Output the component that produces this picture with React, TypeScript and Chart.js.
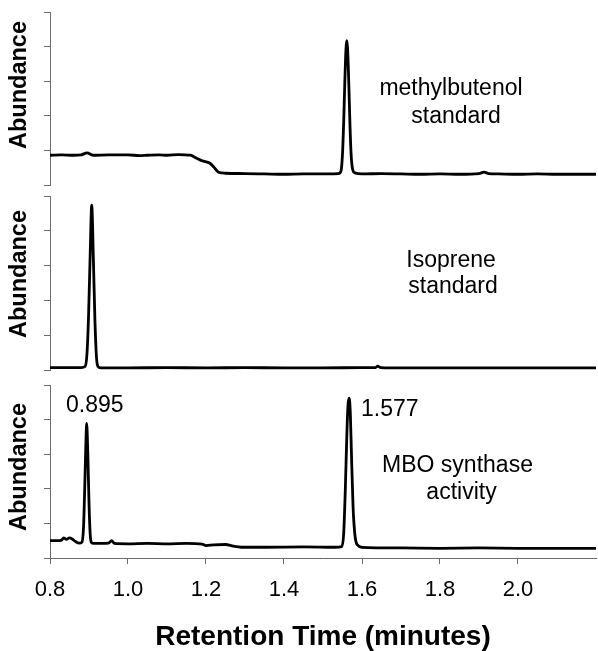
import React, { useEffect, useRef } from 'react';
import { Chart, registerables } from 'chart.js';
Chart.register(...registerables);

// ---- Data (retention time in minutes, abundance in arbitrary units) ----
const mbStdTimes = [0.80, 0.83, 0.86, 0.88, 0.895, 0.91, 0.95, 1.00, 1.03, 1.05, 1.08, 1.10, 1.13, 1.16, 1.175, 1.19, 1.21, 1.22, 1.232, 1.25, 1.30, 1.35, 1.40, 1.45, 1.50, 1.54, 1.546, 1.550, 1.553, 1.556, 1.559, 1.561, 1.563, 1.566, 1.569, 1.572, 1.576, 1.582, 1.60, 1.65, 1.70, 1.75, 1.80, 1.85, 1.90, 1.913, 1.925, 1.95, 2.00, 2.05, 2.10, 2.15, 2.20];
const mbStdAbund = [0.86, 0.87, 0.86, 0.87, 0.93, 0.86, 0.87, 0.87, 0.85, 0.86, 0.87, 0.86, 0.88, 0.86, 0.78, 0.70, 0.63, 0.52, 0.37, 0.34, 0.33, 0.32, 0.31, 0.32, 0.32, 0.33, 0.40, 0.90, 1.80, 3.00, 3.95, 4.17, 3.95, 3.00, 1.80, 0.90, 0.45, 0.35, 0.32, 0.33, 0.32, 0.31, 0.32, 0.31, 0.33, 0.37, 0.33, 0.32, 0.31, 0.32, 0.31, 0.31, 0.31];

const isoStdTimes = [0.80, 0.85, 0.88, 0.890, 0.895, 0.899, 0.903, 0.907, 0.911, 0.915, 0.919, 0.923, 0.93, 1.00, 1.10, 1.20, 1.30, 1.40, 1.50, 1.60, 1.635, 1.64, 1.648, 1.70, 1.80, 1.90, 2.00, 2.10, 2.20];
const isoStdAbund = [0.07, 0.07, 0.07, 0.10, 0.50, 1.60, 3.30, 4.74, 3.30, 1.50, 0.40, 0.10, 0.06, 0.06, 0.07, 0.06, 0.07, 0.06, 0.06, 0.07, 0.07, 0.11, 0.07, 0.06, 0.06, 0.06, 0.06, 0.06, 0.06];

const mboTimes = [0.80, 0.82, 0.83, 0.835, 0.842, 0.85, 0.857, 0.865, 0.875, 0.882, 0.886, 0.889, 0.892, 0.894, 0.897, 0.900, 0.903, 0.906, 0.91, 0.95, 0.958, 0.965, 1.00, 1.05, 1.10, 1.15, 1.19, 1.20, 1.22, 1.25, 1.27, 1.29, 1.35, 1.45, 1.53, 1.548, 1.553, 1.557, 1.561, 1.564, 1.567, 1.570, 1.573, 1.577, 1.582, 1.588, 1.60, 1.70, 1.80, 1.90, 2.00, 2.10, 2.20];
const mboAbund = [0.50, 0.50, 0.52, 0.58, 0.54, 0.58, 0.55, 0.48, 0.43, 0.46, 0.90, 2.00, 3.30, 3.89, 3.00, 1.60, 0.70, 0.45, 0.42, 0.43, 0.50, 0.42, 0.41, 0.42, 0.41, 0.42, 0.40, 0.36, 0.38, 0.39, 0.34, 0.31, 0.31, 0.32, 0.31, 0.33, 0.70, 1.90, 3.50, 4.40, 4.62, 4.20, 3.00, 1.50, 0.65, 0.38, 0.31, 0.29, 0.28, 0.29, 0.28, 0.28, 0.28];

const xTickValues = [0.8, 1.0, 1.2, 1.4, 1.6, 1.8, 2.0];
const xMin = 0.8;
const xMax = 2.2;
const yMax = 5;

type Label = { text: string; x: number; y: number; align: CanvasTextAlign };

type Panel = {
  top: number;
  height: number;
  padTop: number;
  padBottom: number;
  times: number[];
  values: number[];
  showX: boolean;
  titleY: number;
  labels: Label[];
};

const panels: Panel[] = [
  {
    top: 0, height: 190, padTop: 12, padBottom: 5,
    times: mbStdTimes, values: mbStdAbund, showX: false, titleY: 85,
    labels: [
      { text: 'methylbutenol', x: 451, y: 95, align: 'center' },
      { text: 'standard', x: 456, y: 122.7, align: 'center' },
    ],
  },
  {
    top: 190, height: 182, padTop: 6, padBottom: 2,
    times: isoStdTimes, values: isoStdAbund, showX: false, titleY: 84,
    labels: [
      { text: 'Isoprene', x: 451, y: 77, align: 'center' },
      { text: 'standard', x: 453, y: 103, align: 'center' },
    ],
  },
  {
    top: 375, height: 276, padTop: 10, padBottom: 0,
    times: mboTimes, values: mboAbund, showX: true, titleY: 92,
    labels: [
      { text: '0.895', x: 66, y: 36.7, align: 'left' },
      { text: '1.577', x: 361, y: 40.7, align: 'left' },
      { text: 'MBO synthase', x: 457.5, y: 97, align: 'center' },
      { text: 'activity', x: 461.5, y: 124, align: 'center' },
    ],
  },
];

const FONT = '"Liberation Sans", Arial, Helvetica, sans-serif';
const AXIS_COLOR = '#6b6b6b';

function PanelChart({ p }: { p: Panel }) {
  const ref = useRef<HTMLCanvasElement | null>(null);
  useEffect(() => {
    if (!ref.current) return;
    const textPlugin = {
      id: 'panelText',
      afterDraw(chart: any) {
        const ctx = chart.ctx;
        ctx.save();
        ctx.fillStyle = '#000';
        ctx.font = `bold 23.5px ${FONT}`;
        ctx.textAlign = 'center';
        ctx.textBaseline = 'middle';
        ctx.translate(20, p.titleY);
        ctx.rotate(-Math.PI / 2);
        ctx.fillText('Abundance', 0, 0);
        ctx.restore();
        ctx.save();
        ctx.fillStyle = '#000';
        ctx.font = `23px ${FONT}`;
        ctx.textBaseline = 'alphabetic';
        for (const l of p.labels) {
          ctx.textAlign = l.align;
          ctx.fillText(l.text, l.x, l.y);
        }
        ctx.restore();
      },
    };
    const xScale: any = {
      type: 'linear',
      min: xMin,
      max: xMax,
      display: p.showX,
      afterBuildTicks: (s: any) => {
        s.ticks = xTickValues.map((v) => ({ value: v }));
      },
      grid: {
        drawOnChartArea: false,
        drawTicks: true,
        tickLength: 6,
        color: AXIS_COLOR,
      },
      border: { display: true, color: AXIS_COLOR, width: 1 },
      ticks: {
        color: '#000',
        padding: 13,
        maxRotation: 0,
        autoSkip: false,
        font: { family: FONT, size: 22 },
        callback: (v: any) => Number(v).toFixed(1),
      },
      title: {
        display: true,
        text: 'Retention Time (minutes)',
        color: '#000',
        padding: 0,
        font: { family: FONT, size: 28, weight: 'bold', lineHeight: 1 },
      },
    };
    if (p.showX) {
      xScale.afterFit = (s: any) => { s.height = 93; };
    }
    const chart = new Chart(ref.current, {
      type: 'line',
      data: {
        datasets: [
          {
            data: p.times.map((t, i) => ({ x: t, y: p.values[i] })),
            borderColor: '#000',
            borderWidth: 2.8,
            pointRadius: 0,
            fill: false,
            cubicInterpolationMode: 'monotone',
            clip: false as any,
          },
        ],
      },
      options: {
        responsive: false,
        animation: false,
        devicePixelRatio: 1,
        layout: { padding: { top: p.padTop, bottom: p.padBottom, left: 0, right: 2 } },
        plugins: { legend: { display: false }, tooltip: { enabled: false } },
        scales: {
          x: xScale,
          y: {
            type: 'linear',
            min: 0,
            max: yMax,
            afterFit: (s: any) => { s.width = 50; },
            grid: {
              drawOnChartArea: false,
              drawTicks: true,
              tickLength: 6,
              color: AXIS_COLOR,
            },
            border: { display: true, color: AXIS_COLOR, width: 1 },
            ticks: { display: false, stepSize: 1 },
          },
        },
      },
      plugins: [textPlugin],
    } as any);
    return () => chart.destroy();
  }, [p]);
  return (
    <canvas
      ref={ref}
      width={598}
      height={p.height}
      style={{ position: 'absolute', left: 0, top: p.top, width: 598, height: p.height }}
    />
  );
}

export default function App() {
  useEffect(() => {
    document.body.style.margin = '0';
  }, []);
  return (
    <div style={{ position: 'relative', width: 598, height: 651, background: '#fff' }}>
      {panels.map((p, i) => (
        <PanelChart key={i} p={p} />
      ))}
    </div>
  );
}
